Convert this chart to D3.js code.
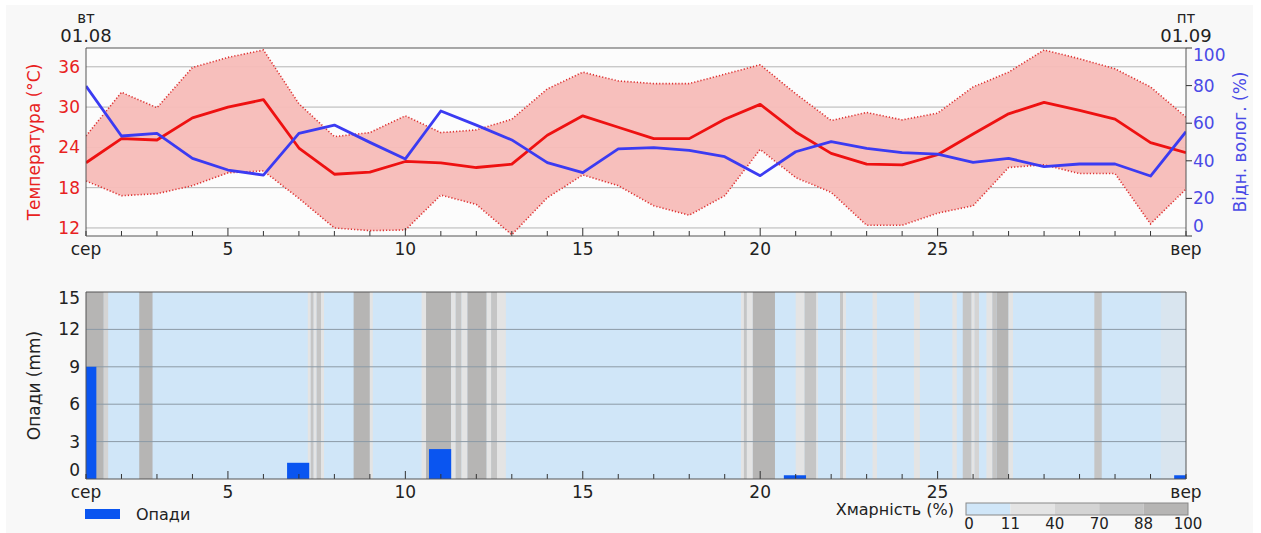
<!DOCTYPE html>
<html>
<head>
<meta charset="utf-8">
<script src="https://cdn.jsdelivr.net/npm/d3@7"></script>
<style>
  body { margin: 0; background: #fff; }
  svg { display: block; font-family: "DejaVu Sans", sans-serif; }
</style>
</head>
<body>
<svg id="chart" width="1261" height="533"></svg>
<script>
// Daily values, 1 Aug .. 1 Sep
const tMean = [21.7, 25.3, 25.1, 28.4, 30.0, 31.1, 23.9, 20.0, 20.3, 21.9, 21.7, 21.0,
  21.5, 25.8, 28.7, 27.0, 25.3, 25.3, 28.2, 30.4, 26.3, 23.1, 21.5, 21.4,
  22.9, 26.0, 29.0, 30.7, 29.5, 28.2, 24.7, 23.2]
const tMax = [25.7, 32.2, 29.9, 35.9, 37.4, 38.5, 30.5, 25.6, 26.2, 28.7, 26.2, 26.6,
  28.2, 32.7, 35.2, 33.9, 33.5, 33.5, 34.9, 36.3, 32.0, 28.0, 29.2, 28.1,
  29.1, 33.0, 35.2, 38.5, 37.2, 35.7, 33.0, 28.5]
const tMin = [19.0, 16.8, 17.1, 18.3, 20.2, 20.5, 16.4, 12.0, 11.6, 11.7, 16.9, 15.5,
  11.0, 16.5, 19.9, 18.3, 15.3, 13.9, 16.8, 23.7, 19.5, 17.3, 12.4, 12.4,
  14.2, 15.3, 21.0, 21.4, 20.1, 20.1, 12.6, 17.8]
const humidity = [79.8, 53.2, 54.6, 41.3, 35.1, 32.4, 54.6, 59.0, 49.8, 41.0, 66.5, 59.0,
  51.1, 39.0, 33.7, 46.3, 47.0, 45.5, 42.2, 32.1, 44.8, 50.2, 46.6, 44.3,
  43.6, 39.2, 41.3, 36.9, 38.3, 38.3, 31.9, 55.5]

// Precipitation: day offset from 1 Aug, mm
const precipDay = [0, 6, 10, 20, 31]
const precipMm = [9.0, 1.3, 2.4, 0.3, 0.3]

// Cloud cover spans: [from day, to day, cover %], days counted from 1 Aug
const clouds = [
  [0, 0.54, 95], [0.54, 0.65, 55], [1.54, 1.90, 92],
  [6.26, 6.34, 25], [6.34, 6.43, 80], [6.43, 6.54, 25], [6.54, 6.65, 80], [6.65, 6.71, 25],
  [7.55, 8.03, 95], [8.03, 8.12, 25],
  [9.47, 9.61, 25], [9.61, 10.32, 95], [10.32, 10.43, 25], [10.43, 10.60, 80],
  [10.60, 10.79, 25], [10.79, 11.30, 92], [11.30, 11.44, 25], [11.44, 11.61, 75], [11.61, 11.87, 25],
  [18.49, 18.57, 25], [18.57, 18.63, 75], [18.63, 18.83, 25], [18.83, 19.42, 95],
  [20.04, 20.29, 25], [20.29, 20.60, 85], [20.60, 20.66, 25],
  [21.28, 21.34, 85], [21.34, 21.42, 25], [22.18, 22.32, 25], [23.37, 23.51, 25],
  [24.44, 24.58, 25], [24.72, 24.97, 75], [24.97, 25.08, 25], [25.08, 25.20, 55],
  [25.39, 25.56, 25], [25.56, 25.70, 75], [25.70, 26.04, 92], [26.04, 26.13, 25],
  [28.44, 28.64, 85], [30.3, 31, 5]
]

const cloudBreaks = [11, 40, 70, 88]
const cloudColors = ["#d0e6f8", "#e4e4e4", "#d4d4d4", "#c5c5c5", "#b6b5b4"]
const cloudLabels = ["0", "11", "40", "70", "88", "100"]

const startDate = new Date(2023, 7, 1)
const dayToDate = d => d3.timeHour.offset(startDate, d * 24)
const dates = tMean.map((_, i) => d3.timeDay.offset(startDate, i))

const svg = d3.select("#chart")
const L = 86, R = 1186
const top1 = 48, bot1 = 236
const top2 = 292, bot2 = 479

// background
svg.append("rect").attr("x", 6).attr("y", 5).attr("width", 1247).attr("height", 528)
  .attr("fill", "#f8f8f8")

const x = d3.scaleTime()
  .domain([startDate, d3.timeDay.offset(startDate, 31)])
  .range([L, R])
const yT = d3.scaleLinear().domain([10.8, 38.8]).range([bot1, top1])
const yH = d3.scaleLinear().domain([0, 100]).range([bot1, top1])
const yP = d3.scaleLinear().domain([0, 15]).range([bot2, top2])

svg.append("defs").append("clipPath").attr("id", "clip1")
  .append("rect").attr("x", L).attr("y", top1).attr("width", R - L).attr("height", bot1 - top1)
svg.select("defs").append("clipPath").attr("id", "clip2")
  .append("rect").attr("x", L).attr("y", top2).attr("width", R - L).attr("height", bot2 - top2)

const fmtX = d => {
  if (d.getDate() === 1) return d.getMonth() === 7 ? "сер" : "вер"
  return d.getDate()
}
const xTickVals = [0, 4, 9, 14, 19, 24, 31].map(i => d3.timeDay.offset(startDate, i))

function xAxis(g, yBase) {
  // daily ticks, pointing up
  g.selectAll("line.tick").data(d3.range(32)).join("line")
    .attr("x1", i => x(d3.timeDay.offset(startDate, i)))
    .attr("x2", i => x(d3.timeDay.offset(startDate, i)))
    .attr("y1", yBase)
    .attr("y2", i => yBase - ([4, 9, 14, 19, 24].includes(i) ? 8 : 5))
    .attr("stroke", "#333").attr("stroke-width", 1)
  g.append("line").attr("x1", L).attr("x2", R).attr("y1", yBase).attr("y2", yBase)
    .attr("stroke", "#555").attr("stroke-width", 1.2)
  g.selectAll("text").data(xTickVals).join("text")
    .attr("x", d => x(d)).attr("y", yBase + 19)
    .attr("text-anchor", "middle").attr("font-size", 17).attr("fill", "#222")
    .text(fmtX)
}

// ---------- top chart ----------
const g1 = svg.append("g")
g1.append("rect").attr("x", L).attr("y", top1).attr("width", R - L).attr("height", bot1 - top1)
  .attr("fill", "#fcfcfc")

const tTicks = [12, 18, 24, 30, 36]
g1.selectAll("line.grid").data(tTicks).join("line")
  .attr("x1", L).attr("x2", R).attr("y1", d => yT(d)).attr("y2", d => yT(d))
  .attr("stroke", "#b4b4b4").attr("stroke-width", 1)

const area = d3.area()
  .x((d, i) => x(dates[i]))
  .y0((d, i) => yT(tMin[i]))
  .y1((d, i) => yT(tMax[i]))
const line = d3.line().x((d, i) => x(dates[i]))

const plot1 = g1.append("g").attr("clip-path", "url(#clip1)")
plot1.append("path").datum(tMax).attr("d", area)
  .attr("fill", "#f7bcb8").attr("fill-opacity", 0.95)
plot1.append("path").datum(tMax).attr("d", line.y(d => yT(d)))
  .attr("fill", "none").attr("stroke", "#dd3333").attr("stroke-width", 1.6).attr("stroke-dasharray", "1.2,2")
plot1.append("path").datum(tMin).attr("d", line.y(d => yT(d)))
  .attr("fill", "none").attr("stroke", "#dd3333").attr("stroke-width", 1.6).attr("stroke-dasharray", "1.2,2")
plot1.append("path").datum(tMean).attr("d", line.y(d => yT(d)))
  .attr("fill", "none").attr("stroke", "#ee1111").attr("stroke-width", 2.8).attr("stroke-linejoin", "round")
plot1.append("path").datum(humidity).attr("d", line.y(d => yH(d)))
  .attr("fill", "none").attr("stroke", "#3b3bf2").attr("stroke-width", 2.8).attr("stroke-linejoin", "round")

// frame
g1.append("line").attr("x1", L).attr("x2", R).attr("y1", top1).attr("y2", top1).attr("stroke", "#555")
g1.append("line").attr("x1", L).attr("x2", L).attr("y1", top1).attr("y2", bot1).attr("stroke", "#555")
g1.append("line").attr("x1", R).attr("x2", R).attr("y1", top1).attr("y2", bot1).attr("stroke", "#555")
xAxis(g1.append("g"), bot1)

// left axis (temperature)
g1.selectAll("text.tl").data(tTicks).join("text")
  .attr("x", L - 6).attr("y", d => yT(d)).attr("dy", "0.35em")
  .attr("text-anchor", "end").attr("font-size", 17).attr("fill", "#e8221e")
  .text(d => d)
g1.append("text").attr("transform", `translate(40,${(top1 + bot1) / 2}) rotate(-90)`)
  .attr("text-anchor", "middle").attr("font-size", 17).attr("fill", "#e8221e")
  .text("Температура (°C)")

// right axis (humidity)
const hTicks = [0, 20, 40, 60, 80, 100]
g1.selectAll("line.hr").data(hTicks).join("line")
  .attr("x1", R).attr("x2", R + 6).attr("y1", d => yH(d)).attr("y2", d => yH(d))
  .attr("stroke", "#333")
g1.selectAll("text.hr").data(hTicks).join("text")
  .attr("x", R + 7)
  .attr("y", d => yH(d) + (d === 100 ? 7 : d === 0 ? -10 : 0)).attr("dy", "0.35em")
  .attr("font-size", 17).attr("fill", "#4a4ae6")
  .text(d => d)
g1.append("text").attr("transform", `translate(1246,${(top1 + bot1) / 2}) rotate(-90)`)
  .attr("text-anchor", "middle").attr("font-size", 17).attr("fill", "#4a4ae6")
  .text("Відн. волог. (%)")

// date headers
const headers = [["вт", "01.08", startDate], ["пт", "01.09", d3.timeDay.offset(startDate, 31)]]
headers.forEach(([wd, dt, d]) => {
  g1.append("text").attr("x", x(d)).attr("y", 23).attr("text-anchor", "middle")
    .attr("font-size", 15).attr("fill", "#222").text(wd)
  g1.append("text").attr("x", x(d)).attr("y", 42).attr("text-anchor", "middle")
    .attr("font-size", 18).attr("fill", "#222").text(dt)
})

// ---------- bottom chart ----------
const g2 = svg.append("g")
const cloudClass = d3.scaleThreshold().domain(cloudBreaks).range(cloudColors)
// below 11 % blend a little towards the next class
const cloudColor = c => c < 11 ? d3.interpolateRgb(cloudColors[0], cloudColors[1])(c / 11) : cloudClass(c)
const plot2 = g2.append("g").attr("clip-path", "url(#clip2)")
plot2.append("rect").attr("x", L).attr("y", top2).attr("width", R - L).attr("height", bot2 - top2)
  .attr("fill", cloudColor(0))
plot2.selectAll("rect.cloud").data(clouds).join("rect")
  .attr("x", d => x(dayToDate(d[0])))
  .attr("width", d => x(dayToDate(d[1])) - x(dayToDate(d[0])))
  .attr("y", top2).attr("height", bot2 - top2)
  .attr("fill", d => cloudColor(d[2]))

const pTicks = [0, 3, 6, 9, 12, 15]
plot2.selectAll("line.grid").data([3, 6, 9, 12]).join("line")
  .attr("x1", L).attr("x2", R).attr("y1", d => yP(d)).attr("y2", d => yP(d))
  .attr("stroke", "#8c9aa6").attr("stroke-width", 1)

plot2.selectAll("rect.bar").data(precipDay).join("rect")
  .attr("x", d => x(dayToDate(d - 0.325)))
  .attr("width", d => x(dayToDate(d + 0.325)) - x(dayToDate(d - 0.325)))
  .attr("y", (d, i) => yP(precipMm[i]))
  .attr("height", (d, i) => bot2 - yP(precipMm[i]))
  .attr("fill", "#0a55f0")

g2.append("line").attr("x1", L).attr("x2", R).attr("y1", top2).attr("y2", top2).attr("stroke", "#555")
g2.append("line").attr("x1", L).attr("x2", L).attr("y1", top2).attr("y2", bot2).attr("stroke", "#555")
g2.append("line").attr("x1", R).attr("x2", R).attr("y1", top2).attr("y2", bot2).attr("stroke", "#555")
xAxis(g2.append("g"), bot2)

g2.selectAll("text.pl").data(pTicks).join("text")
  .attr("x", L - 6)
  .attr("y", d => yP(d) + (d === 15 ? 6 : d === 0 ? -9 : 0)).attr("dy", "0.35em")
  .attr("text-anchor", "end").attr("font-size", 17).attr("fill", "#222")
  .text(d => d)
g2.append("text").attr("transform", `translate(40,${(top2 + bot2) / 2}) rotate(-90)`)
  .attr("text-anchor", "middle").attr("font-size", 17).attr("fill", "#222")
  .text("Опади (mm)")

// legends
g2.append("rect").attr("x", 85).attr("y", 509).attr("width", 35).attr("height", 10).attr("fill", "#0a55f0")
g2.append("text").attr("x", 136).attr("y", 520).attr("font-size", 16).attr("fill", "#222").text("Опади")

g2.append("text").attr("x", 954).attr("y", 515).attr("text-anchor", "end")
  .attr("font-size", 16).attr("fill", "#222").text("Хмарність (%)")
const cb = d3.scaleLinear().domain([0, cloudColors.length]).range([966, 1188])
g2.selectAll("rect.cb").data(cloudColors).join("rect")
  .attr("x", (d, i) => cb(i)).attr("width", (d, i) => cb(i + 1) - cb(i))
  .attr("y", 503).attr("height", 12).attr("fill", d => d)
g2.append("rect").attr("x", 966).attr("y", 503).attr("width", 222).attr("height", 12)
  .attr("fill", "none").attr("stroke", "#888")
g2.selectAll("text.cb").data(cloudLabels).join("text")
  .attr("x", (d, i) => cb(i) + (i === 0 ? 3 : 0)).attr("y", 529)
  .attr("text-anchor", "middle").attr("font-size", 15).attr("fill", "#222")
  .text(d => d)
</script>
</body>
</html>
